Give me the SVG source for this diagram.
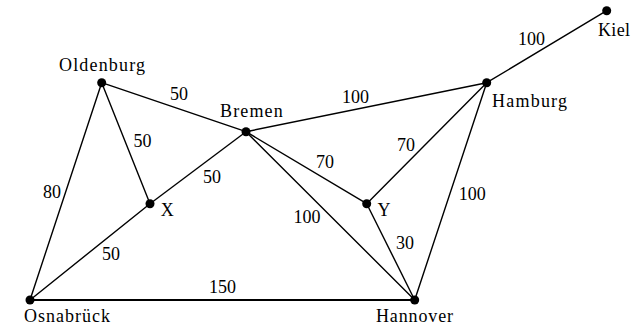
<svg xmlns="http://www.w3.org/2000/svg" width="639" height="325" viewBox="0 0 639 325">
<style>
.e{stroke:#000;stroke-width:1.4;fill:none;stroke-linecap:round}
.thick{stroke-width:2.2}
.d{fill:#000}
</style>
<rect width="639" height="325" fill="#fff"/>
<g id="connectors">
<line class="e" x1="606.7" y1="10.7" x2="486.7" y2="82.7"/>
<line class="e" x1="486.7" y1="82.7" x2="246" y2="131.7"/>
<line class="e" x1="101.7" y1="82.7" x2="246" y2="131.7"/>
<line class="e" x1="101.7" y1="82.7" x2="150" y2="203.7"/>
<line class="e" x1="101.7" y1="82.7" x2="30" y2="300"/>
<line class="e" x1="30" y1="300" x2="150" y2="203.7"/>
<line class="e" x1="150" y1="203.7" x2="246" y2="131.7"/>
<line class="e" x1="246" y1="131.7" x2="366.7" y2="203.7"/>
<line class="e" x1="246" y1="131.7" x2="414.7" y2="300"/>
<line class="e" x1="366.7" y1="203.7" x2="486.7" y2="82.7"/>
<line class="e" x1="366.7" y1="203.7" x2="414.7" y2="300"/>
<line class="e" x1="486.7" y1="82.7" x2="414.7" y2="300"/>
<line class="e thick" x1="30" y1="300" x2="414.7" y2="300"/>
<text font-family="Liberation Serif, Times New Roman, serif" font-size="18" x="518" y="45">100</text>
<text font-family="Liberation Serif, Times New Roman, serif" font-size="18" x="342" y="102.7">100</text>
<text font-family="Liberation Serif, Times New Roman, serif" font-size="18" x="170" y="100">50</text>
<text font-family="Liberation Serif, Times New Roman, serif" font-size="18" x="133.5" y="146.7">50</text>
<text font-family="Liberation Serif, Times New Roman, serif" font-size="18" x="43" y="197.7">80</text>
<text font-family="Liberation Serif, Times New Roman, serif" font-size="18" x="102" y="260">50</text>
<text font-family="Liberation Serif, Times New Roman, serif" font-size="18" x="203" y="183.3">50</text>
<text font-family="Liberation Serif, Times New Roman, serif" font-size="18" x="316" y="168.3">70</text>
<text font-family="Liberation Serif, Times New Roman, serif" font-size="18" x="293.5" y="223.3">100</text>
<text font-family="Liberation Serif, Times New Roman, serif" font-size="18" x="397" y="151">70</text>
<text font-family="Liberation Serif, Times New Roman, serif" font-size="18" x="396" y="249.3">30</text>
<text font-family="Liberation Serif, Times New Roman, serif" font-size="18" x="458.7" y="200">100</text>
<text font-family="Liberation Serif, Times New Roman, serif" font-size="18" x="209" y="292.7">150</text>
</g>
<g id="kiel"><circle class="d" cx="606.7" cy="10.7" r="4.5"/><text font-family="Liberation Serif, Times New Roman, serif" font-size="18" x="598" y="35.7" textLength="32">Kiel</text></g>
<g id="hamburg"><circle class="d" cx="486.7" cy="82.7" r="4.5"/><text font-family="Liberation Serif, Times New Roman, serif" font-size="18" x="492" y="107.3" textLength="75">Hamburg</text></g>
<g id="oldenburg"><circle class="d" cx="101.7" cy="82.7" r="4.5"/><text font-family="Liberation Serif, Times New Roman, serif" font-size="18" x="59" y="70.7" textLength="86">Oldenburg</text></g>
<g id="bremen"><circle class="d" cx="246" cy="131.7" r="4.5"/><text font-family="Liberation Serif, Times New Roman, serif" font-size="18" x="220" y="117.3" textLength="62.7">Bremen</text></g>
<g id="x"><circle class="d" cx="150" cy="203.7" r="4.5"/><text font-family="Liberation Serif, Times New Roman, serif" font-size="18" x="160.7" y="215.7" textLength="13.3">X</text></g>
<g id="y"><circle class="d" cx="366.7" cy="203.7" r="4.5"/><text font-family="Liberation Serif, Times New Roman, serif" font-size="18" x="377.5" y="215.7" textLength="11">Y</text></g>
<g id="osnabrueck"><circle class="d" cx="30" cy="300" r="4.5"/><text font-family="Liberation Serif, Times New Roman, serif" font-size="18" x="24" y="321.7" textLength="86">Osnabrück</text></g>
<g id="hannover"><circle class="d" cx="414.7" cy="300" r="4.5"/><text font-family="Liberation Serif, Times New Roman, serif" font-size="18" x="376" y="321.7" textLength="77">Hannover</text></g>
</svg>
